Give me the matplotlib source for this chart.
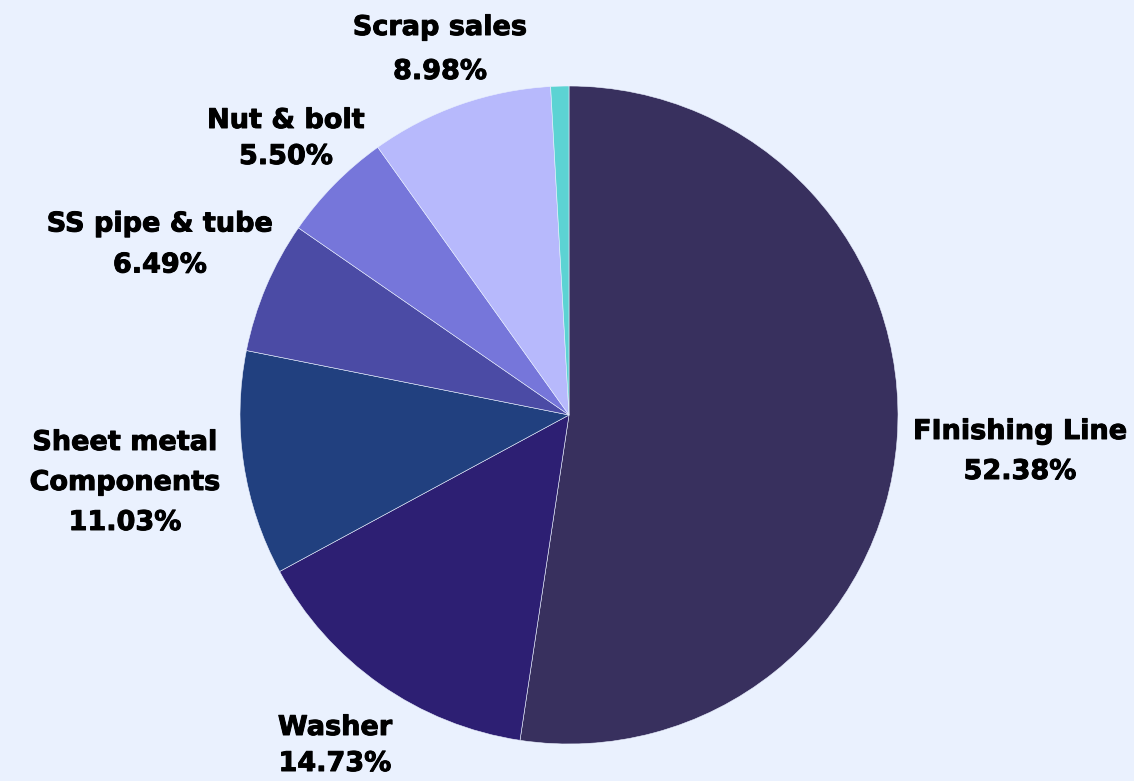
import matplotlib.pyplot as plt
import matplotlib.patheffects as pe

# slice data, clockwise from the top
names = ["FInishing Line", "Washer", "Sheet metal\nComponents", "SS pipe & tube",
         "Nut & bolt", "Scrap sales", ""]
shares = [52.38, 14.73, 11.03, 6.49, 5.50, 8.98, 0.89]
colors = ["#38305E", "#2D1F73", "#21407F", "#4B4BA5", "#7676DA", "#B7B9FC", "#5CD3D3"]

# where each label block sits (pixel coords, y from top) and its line spacing
label_pos = [(1020, 452), (335, 746), (125, 483), (160, 245), (286, 139), (440, 50), None]
label_gap = [1.7, 1.5, 1.7, 1.75, 1.5, 1.9, None]

bg = "#EAF1FE"
W, H = 1134, 781

fig = plt.figure(figsize=(W / 100, H / 100), dpi=100, facecolor=bg)
ax = fig.add_axes([0, 0, 1, 1])
ax.set_facecolor(bg)

ax.pie(shares, colors=colors, startangle=90, counterclock=False,
       center=(569, H - 415), radius=329,
       wedgeprops={"edgecolor": bg, "linewidth": 0.4})

# pie resets the limits, so set the pixel frame afterwards
ax.set_xlim(0, W)
ax.set_ylim(0, H)
ax.set_aspect("equal")
ax.axis("off")

thick = [pe.withStroke(linewidth=0.7, foreground="black")]
for name, val, pos, gap in zip(names, shares, label_pos, label_gap):
    if pos is None:
        continue
    ax.text(pos[0], H - pos[1], f"{name}\n{val:.2f}%", ha="center", va="center",
            fontsize=19.5, fontweight="bold", color="black", linespacing=gap,
            family=["DejaVu Sans"], path_effects=thick)

fig.savefig("out.png", dpi=100, facecolor=bg)
